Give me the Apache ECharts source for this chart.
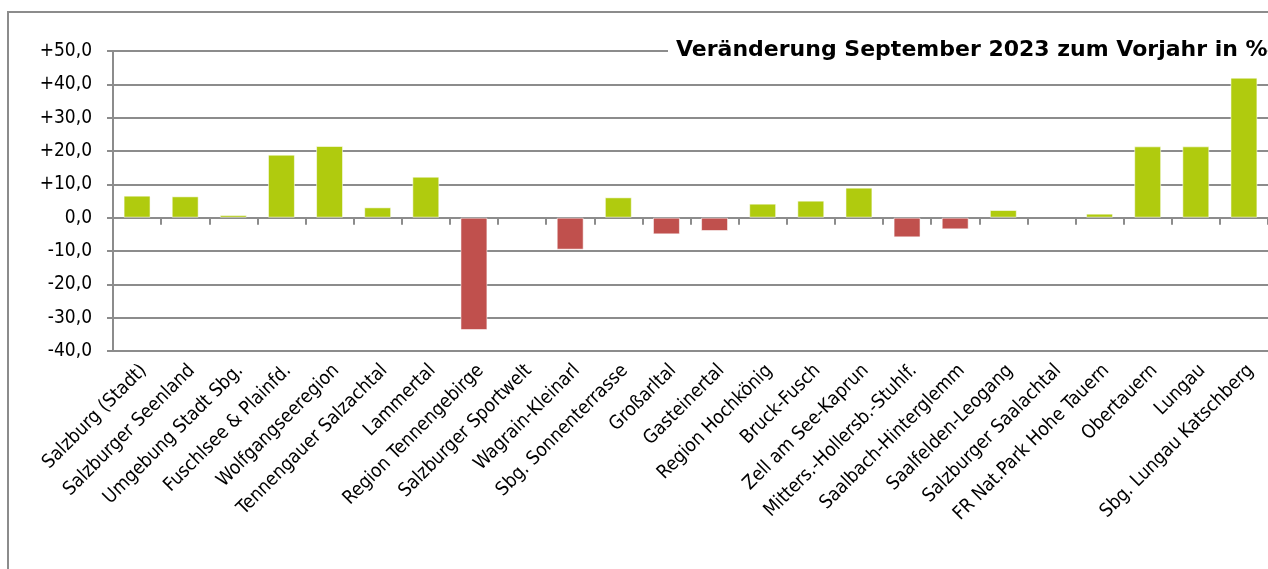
<!DOCTYPE html>
<html>
<head>
<meta charset="utf-8">
<script src="https://cdn.jsdelivr.net/npm/echarts@6/dist/echarts.min.js"></script>
<style>
  html, body { margin: 0; padding: 0; background: #ffffff; }
  #chart { width: 1268px; height: 569px; }
</style>
</head>
<body>
<div id="chart"></div>
<script>
// Tourismusregionen Salzburg – Veränderung der Nächtigungen zum Vorjahresmonat
const regions = [
  'Salzburg (Stadt)', 'Salzburger Seenland', 'Umgebung Stadt Sbg.', 'Fuschlsee & Plainfd.',
  'Wolfgangseeregion', 'Tennengauer Salzachtal', 'Lammertal', 'Region Tennengebirge',
  'Salzburger Sportwelt', 'Wagrain-Kleinarl', 'Sbg. Sonnenterrasse', 'Großarltal',
  'Gasteinertal', 'Region Hochkönig', 'Bruck-Fusch', 'Zell am See-Kaprun',
  'Mitters.-Hollersb.-Stuhlf.', 'Saalbach-Hinterglemm', 'Saalfelden-Leogang', 'Salzburger Saalachtal',
  'FR Nat.Park Hohe Tauern', 'Obertauern', 'Lungau', 'Sbg. Lungau Katschberg'
];
// null = kein Wert ausgewiesen
const changePct = [
  6.6, 6.4, 0.8, 18.9,
  21.5, 3.1, 12.3, -33.7,
  null, -9.6, 6.1, -5.0,
  -4.0, 4.2, 5.1, 9.0,
  -5.9, -3.5, 2.3, null,
  1.2, 21.4, 21.4, 42.0
];
const yTicks = { min: -40, max: 50, step: 10 };
const titleText = 'Veränderung September 2023 zum Vorjahr in %';

const GREEN = '#B0CB0E';
const RED = '#C0504D';
const GRID = '#8c8c8c';
const FONT = '"DejaVu Sans Condensed", "DejaVu Sans", sans-serif';

function fmtPct(v) {
  const s = Math.abs(v).toFixed(1).replace('.', ',');
  if (v > 0) return '+' + s;
  if (v < 0) return '-' + s;
  return s;
}

const chart = echarts.init(document.getElementById('chart'), null, { renderer: 'canvas' });
chart.setOption({
  animation: false,
  backgroundColor: '#ffffff',
  grid: { left: 113, right: -2, top: 51, bottom: 218, containLabel: false },
  title: {
    text: titleText,
    left: 668,
    top: 37,
    padding: [2, 0, 2, 8],
    backgroundColor: '#ffffff',
    textStyle: { fontFamily: '"DejaVu Sans", sans-serif', fontWeight: 'bold', fontSize: 22, color: '#000' }
  },
  graphic: [{
    type: 'rect',
    shape: { x: 8, y: 12, width: 1300, height: 600 },
    style: { fill: 'none', stroke: GRID, lineWidth: 2 },
    silent: true,
    z: -10
  }],
  xAxis: [{
    type: 'category',
    data: regions,
    position: 'bottom',
    axisLine: { show: false, onZero: false },
    axisTick: { show: false },
    axisLabel: {
      interval: 0,
      rotate: 45,
      margin: 10,
      verticalAlign: 'top',
      color: '#000',
      fontFamily: FONT,
      fontSize: 19
    }
  }, {
    type: 'category',
    data: regions,
    position: 'bottom',
    axisLine: { show: true, onZero: true, lineStyle: { color: GRID, width: 2 } },
    axisTick: { show: true, interval: 0, length: 7, lineStyle: { color: GRID, width: 2 } },
    axisLabel: { show: false }
  }],
  yAxis: {
    type: 'value',
    min: yTicks.min,
    max: yTicks.max,
    interval: yTicks.step,
    axisLine: { show: true, lineStyle: { color: GRID, width: 2 } },
    axisTick: { show: true, length: 6, lineStyle: { color: GRID, width: 2 } },
    splitLine: { show: true, lineStyle: { color: GRID, width: 2 } },
    axisLabel: {
      margin: 21,
      color: '#000',
      fontFamily: FONT,
      fontSize: 19,
      formatter: fmtPct
    }
  },
  series: [{
    type: 'bar',
    xAxisIndex: 0,
    data: changePct,
    barCategoryGap: '44%',
    itemStyle: {
      color: p => (p.value < 0 ? RED : GREEN),
      borderColor: 'rgba(255,255,255,0.55)',
      borderWidth: 1
    },
    z: 3
  }]
});
</script>
</body>
</html>
